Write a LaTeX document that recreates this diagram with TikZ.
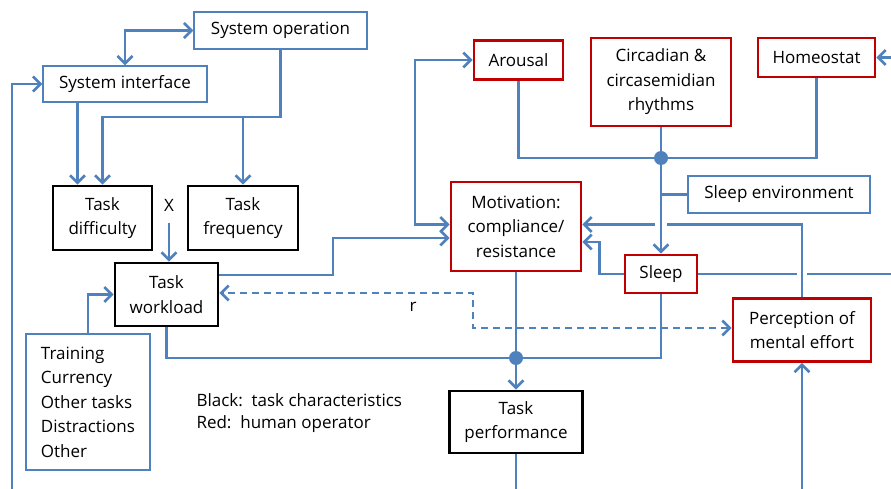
\documentclass[tikz,border=0pt]{standalone}
\usepackage{fontspec}
\setmainfont{Open Sans}
\usetikzlibrary{arrows.meta, calc}
\definecolor{linkcolor}{HTML}{4F81BD}
\definecolor{humancolor}{HTML}{C00000}

\begin{document}
\begin{tikzpicture}[
    x=1pt, y=-1pt,
    >={Straight Barb[length=7.5pt,width=15pt]},
    every node/.style={font=\fontsize{17}{24.5}\selectfont},
    taskbox/.style={rectangle, draw=black, line width=2.6pt, fill=white, align=center, inner sep=0pt},
    humanbox/.style={rectangle, draw=humancolor, line width=2.6pt, fill=white, align=center, inner sep=0pt},
    sysbox/.style={rectangle, draw=linkcolor, line width=1.3pt, fill=white, align=center, inner sep=0pt},
    link/.style={draw=linkcolor, line width=2.7pt},
    arrow/.style={link, ->},
    dasharrow/.style={link, <->, dash pattern=on 7pt off 5pt},
    hub/.style={circle, fill=linkcolor, inner sep=0pt, minimum size=14pt},
    gap/.style={draw=white, line width=6pt}
]
\useasboundingbox (0,0) rectangle (891,489);

% system side
\node[sysbox, minimum width=173pt, minimum height=37pt] (sysop) at (280.5,30.5) {System operation};
\node[sysbox, minimum width=164pt, minimum height=36pt] (sysint) at (125,84) {System interface};
\node[taskbox, minimum width=99pt, minimum height=64pt] (taskdiff) at (102.5,218) {Task\\difficulty};
\node[taskbox, minimum width=110pt, minimum height=64pt] (taskfreq) at (243,218) {Task\\frequency};
\node (xlabel) at (169,205) {X};
\node[taskbox, minimum width=103pt, minimum height=63pt] (workload) at (166.5,294.5) {Task\\workload};
\node[sysbox, minimum width=124pt, minimum height=136pt, align=left] (training) at (88,402) {Training\\Currency\\Other tasks\\Distractions\\Other};
\node[anchor=west] (keyblack) at (193,400) {Black:\ \ task characteristics};
\node[anchor=west] (keyred) at (193,424) {Red:\ \ human operator};

% human side
\node[humanbox, minimum width=89pt, minimum height=39pt] (arousal) at (518.5,60) {Arousal};
\node[humanbox, minimum width=140pt, minimum height=88pt] (circ) at (661,82) {Circadian \&\\circasemidian\\rhythms};
\node[humanbox, minimum width=117pt, minimum height=39pt] (homeo) at (816.5,57.5) {Homeostat};
\node[hub] (hub) at (661,158) {};
\node[sysbox, minimum width=182pt, minimum height=37pt] (sleepenv) at (779,194.5) {Sleep environment};
\node[humanbox, minimum width=130pt, minimum height=89pt] (motiv) at (516,226.5) {Motivation:\\compliance/\\resistance};
\node[humanbox, minimum width=72pt, minimum height=38pt] (sleep) at (661,274) {Sleep};
\node[humanbox, minimum width=138pt, minimum height=63pt] (percep) at (802,330) {Perception of\\mental effort};
\node[hub] (hub2) at (516,358) {};
\node[taskbox, minimum width=133pt, minimum height=62pt] (perform) at (516,422) {Task\\performance};
\node (rlabel) at (413,307) {r};

\coordinate (leftin) at (12,489);
\coordinate (bus) at (0,117);
\coordinate (jog) at (333,238);
\coordinate (abend) at (415,140);
\coordinate (rbend) at (473,310);
\coordinate (rightin) at (891,57.5);
\coordinate (rightout) at (891,274);
\coordinate (perfout) at (516,489);
\coordinate (percin) at (802,489);
\coordinate (mtop) at ([yshift=2pt]motiv.east);

% task connectors
\draw[link, <->] (sysint.north) |- (sysop.west);
\draw[arrow] (leftin) |- (sysint.west);
\draw[arrow] ([xshift=-25pt]taskdiff.north |- sysint.south) -- ([xshift=-25pt]taskdiff.north);
\draw[arrow] (sysop.south) -- (sysop.south |- bus) -| (taskdiff.north);
\draw[arrow] (taskfreq.north |- bus) -- (taskfreq.north);
\draw[arrow, shorten <=8pt] (xlabel.south) -- (xlabel.south |- workload.north);
\draw[arrow] (training.north) |- (workload.west);
\draw[arrow] ([yshift=19.5pt]workload.east) -| (jog) -- (jog -| motiv.west);
\draw[dasharrow] ([yshift=2pt]percep.west) -| (rbend) |- ([yshift=1.5pt]workload.east);

% human connectors
\draw[link, <->] (arousal.west) -| (abend) |- ([yshift=2pt]motiv.west);
\draw[link] (arousal.south) |- (hub) -| (homeo.south);
\draw[link] (circ.south) -- (hub);
\draw[link] (hub |- sleepenv.west) -- (sleepenv.west);
\draw[arrow] (rightin) -- (homeo.east);
\draw[link] (sleep.east) -- (rightout);
\draw[gap] ($(percep.north |- sleep.east)+(-5,0)$) -- ($(percep.north |- sleep.east)+(5,0)$);
\draw[arrow] (percep.north) |- (mtop);
\draw[gap] ($(hub |- mtop)+(-6,0)$) -- ($(hub |- mtop)+(6,0)$);
\draw[arrow] (hub) -- (sleep.north);
\draw[arrow] (sleep.west) -| ++(-24,-32) -- ([yshift=-15.5pt]motiv.east);
\draw[link] (workload.south) |- (hub2);
\draw[link] (sleep.south) |- (hub2);
\draw[link] (motiv.south) -- (hub2);
\draw[arrow] (hub2) -- (perform.north);
\draw[link] (perform.south) -- (perfout);
\draw[arrow] (percin) -- (percep.south);
\end{tikzpicture}
\end{document}
